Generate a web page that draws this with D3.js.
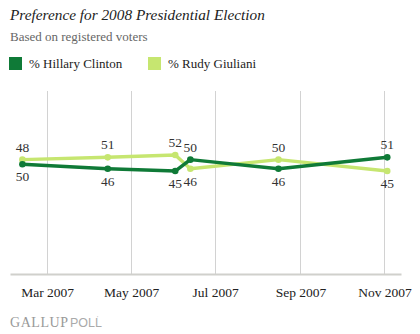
<!DOCTYPE html>
<html><head><meta charset="utf-8">
<script src="https://cdn.jsdelivr.net/npm/d3@7"></script>
<style>body{margin:0;background:#fff}svg{display:block}</style>
</head><body>
<script>
const dates = ["2007-02-11","2007-04-14","2007-06-02","2007-06-13","2007-08-16","2007-11-03"];
const clinton = [48,46,45,50,46,51];
const giuliani = [50,51,52,46,50,45];
const clintonLabels = ["50","46","45","50","46","51"];
const giulianiLabels = ["48","51","52","46","50","45"];
const tickDates = ["2007-03-01","2007-05-01","2007-07-01","2007-09-01","2007-11-01"];
const seriesNames = ["% Hillary Clinton","% Rudy Giuliani"];
const colors = ["#0f7a37","#c6e670"];

const W=420,H=334;
const svg=d3.select("body").append("svg").attr("width",W).attr("height",H);
const parse=d3.utcParse("%Y-%m-%d");
const x=d3.scaleUtc().domain([parse("2007-02-02"),parse("2007-11-13")]).range([10,401]);
const y=d3.scaleLinear().domain([0,80]).range([274,91]);
const serif="'Liberation Serif','DejaVu Serif',serif";

svg.append("text").attr("x",10).attr("y",20).attr("font-family",serif).attr("font-style","italic")
  .attr("font-size",15.3).attr("fill","#222").text("Preference for 2008 Presidential Election");
svg.append("text").attr("x",10).attr("y",41).attr("font-family",serif)
  .attr("font-size",13).attr("fill","#666").text("Based on registered voters");

const legX=[9,148];
seriesNames.forEach((n,i)=>{
  svg.append("rect").attr("x",legX[i]).attr("y",57).attr("width",13).attr("height",13).attr("fill",colors[i]);
  svg.append("text").attr("x",legX[i]+20).attr("y",68).attr("font-family",serif).attr("font-size",13)
    .attr("fill","#222").text(n);
});

// gridlines
svg.append("g").selectAll("line").data(tickDates.map(parse)).join("line")
  .attr("x1",d=>Math.round(x(d))+0.5).attr("x2",d=>Math.round(x(d))+0.5)
  .attr("y1",y(80)).attr("y2",y(0)).attr("stroke","#d2d2d2").attr("stroke-width",1);

// axis
const ax=svg.append("g").attr("transform",`translate(0,${y(0)})`)
  .call(d3.axisBottom(x).tickValues(tickDates.map(parse)).tickFormat(d3.utcFormat("%b %Y")).tickSize(0).tickPadding(13));
ax.select(".domain").attr("stroke","#d0d0cc").attr("stroke-width",2);
ax.selectAll("text").attr("font-family",serif).attr("font-size",13.5).attr("fill","#222");

const pts=dates.map(parse);
const series=[clinton,giuliani];
const labels=[clintonLabels,giulianiLabels];
const line=d3.line().x((d,i)=>x(pts[i])).y(d=>y(d));
[1,0].forEach(s=>{
  svg.append("path").attr("d",line(series[s])).attr("fill","none").attr("stroke",colors[s])
    .attr("stroke-width",3.5).attr("stroke-linejoin","round");
  svg.append("g").selectAll("circle").data(series[s]).join("circle")
    .attr("cx",(d,i)=>x(pts[i])).attr("cy",d=>y(d)).attr("r",3.3).attr("fill",colors[s]);
});
[0,1].forEach(s=>{
  const other=series[1-s];
  svg.append("g").selectAll("text").data(series[s]).join("text")
    .attr("x",(d,i)=>x(pts[i])).attr("y",(d,i)=> d>other[i] ? y(d)-8 : y(d)+17)
    .attr("text-anchor","middle").attr("font-family",serif).attr("font-size",13.5).attr("fill","#333")
    .text((d,i)=>labels[s][i]);
});

svg.append("text").attr("x",10).attr("y",327).attr("font-family",serif).attr("font-size",14)
  .attr("textLength",58).attr("fill","#999").text("GALLUP");
svg.append("text").attr("x",70).attr("y",327).attr("font-family","'Liberation Sans',sans-serif").attr("font-size",12.5)
  .attr("fill","#aaa").text("POLL");
svg.append("text").attr("x",97).attr("y",320).attr("font-family","'Liberation Sans',sans-serif").attr("font-size",6)
  .attr("fill","#aaa").text("'");
</script>
</body></html>
